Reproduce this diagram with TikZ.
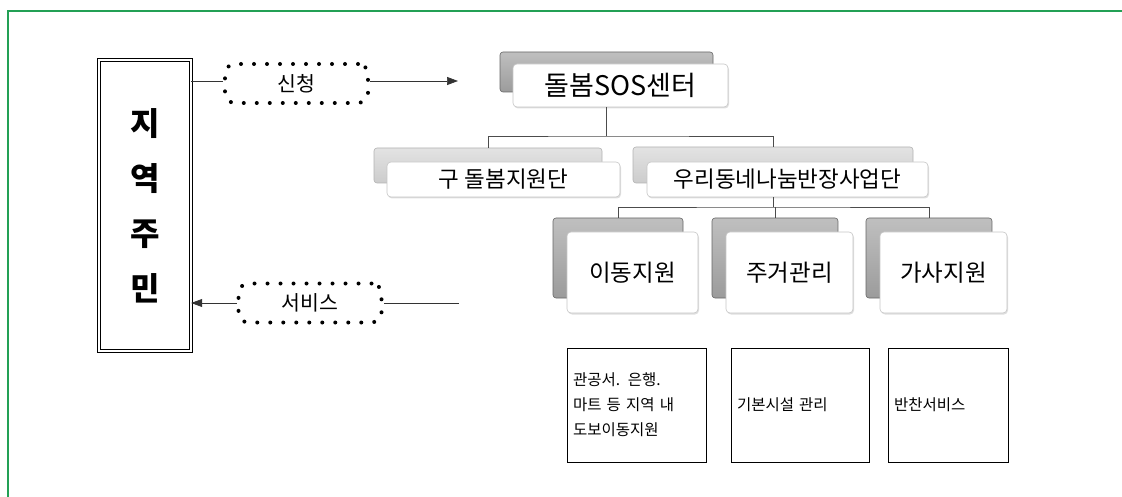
\documentclass[tikz,border=0pt]{standalone}
\usepackage{fontspec}
\newfontfamily\kr{Noto Sans CJK KR}
\usetikzlibrary{shadows,arrows.meta}
\definecolor{frame}{RGB}{35,160,85}
\begin{document}
\begin{tikzpicture}[x=1pt,y=-1pt,
  back/.style={rounded corners=3pt, draw=gray!80!black, line width=0.6pt, top color=gray!50, bottom color=gray!78, inner sep=0pt},
  backl/.style={back, top color=gray!22, bottom color=gray!40, draw=gray!60},
  front/.style={rounded corners=4pt, draw=gray!45, fill=white, line width=0.6pt, inner sep=0pt,
    drop shadow={opacity=0.25,shadow xshift=1pt,shadow yshift=-1.5pt}},
  conn/.style={draw=gray!60!black, line width=0.8pt},
  arr/.style={draw=black!80, line width=0.7pt},
  tip/.style={-{Triangle[length=11pt,width=8pt]}},
  dotbox/.style={draw=black, line width=4pt, dash pattern=on 0pt off 13pt, line cap=round,
    rounded corners=10pt, inner sep=0pt, minimum width=143pt, minimum height=39pt,
    font=\kr\fontsize{20.5}{22}\selectfont},
  leaf/.style={draw=black, line width=0.8pt, inner sep=6pt, minimum height=114pt, align=left,
    font=\kr\fontsize{15.5}{25}\selectfont},
  big/.style={font=\kr\fontsize{22.5}{26}\selectfont},
  mid/.style={font=\kr\fontsize{23.5}{26}\selectfont}
]
\useasboundingbox (0,0) rectangle (1122,497);
\draw[frame, line width=2.5pt] (8,497) -- (8,11) -- (1122,11);

% residents
\node[draw, double, double distance=2.4pt, line width=0.9pt, minimum width=91.5pt, minimum height=290.5pt,
  align=center, font=\kr\bfseries\fontsize{32}{55}\selectfont] (JY) at (145,205.5) {지\\역\\주\\민};

% dotted labels
\node[dotbox] (SC) at (296.5,83.5) {신청};
\node[dotbox] (SV) at (310,303) {서비스};
\coordinate (a1) at (458,81);
\coordinate (a2) at (459,303);
\draw[arr] (JY.east |- 0,81) -- (SC.west |- 0,81);
\draw[arr, tip] (SC.east |- 0,81) -- (a1);
\draw[arr] (a2) -- (SV.east);
\draw[arr, tip] (SV.west) -- (JY.east |- SV.west);

% SOS center
\node[back, minimum width=213pt, minimum height=40pt] (SOSb) at (606.5,72) {};
\node[front, minimum width=215pt, minimum height=43pt, font=\kr\fontsize{27}{30}\selectfont] (SOSf) at (620.5,85.5) {돌봄SOS센터};

% second level
\node[backl, minimum width=228pt, minimum height=35pt] (GUb) at (488,165.5) {};
\node[front, big, minimum width=233pt, minimum height=35pt] (GUf) at (503.5,179.5) {구 돌봄지원단};
\node[backl, minimum width=280pt, minimum height=36pt] (URb) at (773,165) {};
\node[front, big, minimum width=281pt, minimum height=35pt] (URf) at (787.5,179.5) {우리동네나눔반장사업단};

% third level
\node[back, minimum width=130pt, minimum height=80pt] (IDb) at (618,258) {};
\node[front, mid, minimum width=131pt, minimum height=81pt] (IDf) at (632.5,272.5) {이동지원};
\node[back, minimum width=126pt, minimum height=80pt] (JGb) at (775,258) {};
\node[front, mid, minimum width=127pt, minimum height=81pt] (JGf) at (789.5,272.5) {주거관리};
\node[back, minimum width=126pt, minimum height=80pt] (GSb) at (929,258) {};
\node[front, mid, minimum width=127pt, minimum height=81pt] (GSf) at (943.5,272.5) {가사지원};

% connectors
\draw[conn] (SOSb.center |- SOSf.south) -- (SOSb.center |- 0,136) coordinate (bus1);
\draw[conn] (GUb.north) |- (bus1) -| (URb.north);
\draw[conn] (URb.center |- URf.south) -- (URb.center |- 0,207) coordinate (bus2);
\draw[conn] (IDb.north) |- (bus2) -| (GSb.north);
\draw[conn] (JGb.north) -- (JGb.north |- bus2);

% leaf boxes
\node[leaf, text width=127pt] (L1) at (636.5,405) {관공서. 은행.\\\makebox[127pt][s]{마트 등 지역 내}\\도보이동지원};
\node[leaf, text width=126pt] (L2) at (800,405) {기본시설 관리};
\node[leaf, text width=108pt] (L3) at (948,405) {반찬서비스};
\end{tikzpicture}
\end{document}
